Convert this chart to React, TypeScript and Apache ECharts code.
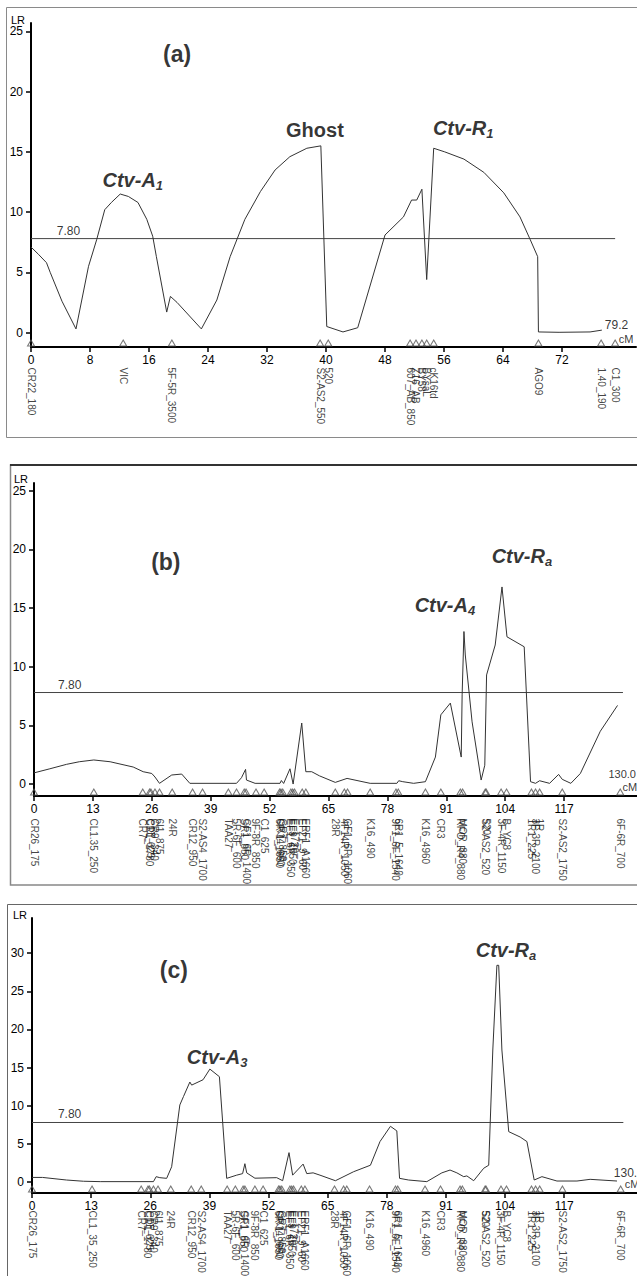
import React, { useEffect, useRef } from "react";
import * as echarts from "echarts";

// ---------- DATA ----------
// LR profiles: [cM, LR]
const curveA: [number, number][] = [
  [0, 7.1], [1, 6.5], [2.1, 5.8], [2.6, 5.0], [4.2, 2.6], [6.1, 0.3], [7.8, 5.5], [8.9, 7.7],
  [10.0, 10.2], [10.9, 10.8], [12.1, 11.5], [13.2, 11.3], [14.5, 10.8], [15.7, 9.4], [16.5, 8.0],
  [17.0, 6.3], [18.4, 1.7], [18.9, 3.0], [19.8, 2.5], [23.1, 0.3], [25.2, 2.7], [27.0, 6.3],
  [29.0, 9.4], [31.1, 11.7], [33.1, 13.5], [35.1, 14.6], [37.4, 15.3], [39.3, 15.5], [40.1, 0.5],
  [42.3, 0.05], [44.3, 0.4], [48.0, 8.1], [50.5, 9.6], [51.6, 11.0], [52.3, 11.0], [53.0, 11.9],
  [53.65, 4.4], [54.6, 15.3], [56.1, 15.0], [58.7, 14.4], [61.4, 13.3], [64.1, 11.6], [66.3, 9.6],
  [67.7, 7.7], [68.7, 6.3], [68.8, 0.05], [71.6, 0.02], [75.8, 0.05], [77.4, 0.2],
];
const curveB: [number, number][] = [
  [0, 0.95], [3.5, 1.3], [7.2, 1.68], [10, 1.9], [13.2, 2.05], [16.8, 1.9], [21.9, 1.45],
  [24.1, 1.05], [26.0, 0.9], [26.7, 0.6], [27.7, 0.06], [30.4, 0.77], [32.6, 0.85], [34.4, 0.06],
  [44.7, 0.06], [45.8, 0.54], [46.7, 1.25], [46.9, 0.34], [48.8, 0.06], [54.3, 0.06], [54.6, 0.3],
  [55.1, 0.05], [56.5, 1.3], [57.2, 0.0], [59.1, 5.2], [60.0, 1.05], [61.3, 1.05], [63.0, 0.7],
  [66.5, 0.14], [69.1, 0.48], [74.2, 0.06], [80.1, 0.06], [80.5, 0.28], [81.4, 0.2], [83.8, 0.06],
  [86.4, 0.2], [88.6, 2.3], [89.8, 5.9], [91.9, 6.9], [94.3, 2.3], [94.5, 7.6], [94.9, 13.0],
  [95.2, 11.0], [96.7, 5.3], [98.7, 0.34], [99.5, 1.6], [99.9, 9.3], [101.8, 11.85], [103.3, 16.8],
  [104.4, 12.55], [108.2, 11.7], [109.6, 0.2], [110.7, 0.06], [111.6, 0.28], [113.8, 0.06],
  [115.8, 0.82], [116.6, 0.4], [118.5, 0.06], [120.6, 0.9], [125.0, 4.5], [128.8, 6.7],
];
const curveC: [number, number][] = [
  [0, 0.6], [2.3, 0.6], [7.6, 0.26], [11.3, 0.1], [15, 0.05], [26.7, 0.05], [27.3, 0.7],
  [28.1, 0.57], [29.6, 0.48], [30.7, 2.0], [32.5, 10.1], [33.3, 11.2], [34.7, 13.1], [35.1, 12.7],
  [37.6, 13.4], [39.1, 14.8], [41.2, 13.8], [42.8, 0.48], [45.0, 0.9], [46.3, 1.1], [46.8, 2.4],
  [47.2, 1.2], [49.0, 0.5], [53.8, 0.57], [55.1, 0.17], [56.5, 3.85], [57.3, 0.9], [59.6, 2.35],
  [60.4, 1.1], [61.8, 1.2], [63.3, 0.9], [66.7, 0.17], [70.7, 1.35], [74.4, 2.2], [76.5, 5.3],
  [78.8, 7.3], [80.2, 6.7], [80.8, 0.48], [82.8, 0.26], [86.8, 0.05], [90.1, 1.2], [91.9, 1.57],
  [93.4, 1.2], [94.9, 0.7], [95.6, 0.8], [97.1, 0.17], [99.3, 1.8], [100.4, 2.2], [101.3, 17.3],
  [102.2, 28.4], [102.6, 28.4], [103.3, 17.3], [104.8, 6.6], [107.3, 5.9], [108.8, 5.3],
  [110.4, 0.26], [112.1, 0.7], [115.4, 0.13], [119.8, 0.13], [122.7, 0.35], [128.6, 0.13],
];

const threshold = 7.8;
const mapLengthA = 79.2;
const mapLengthBC = 130.0;

// markers (cM positions and names)
const markerPosA = [0, 12.5, 19.1, 39.2, 40.3, 51.4, 52.2, 53.0, 53.65, 54.6, 68.8, 77.3, 79.2];
const markerNameA = [
  "CR22_180", "VIC", "5F-5R_3500", "S2-AS2_550", "520", "607_AB_850", "Z16_AB", "BY58",
  "BYsaL", "cK16td", "AGO9", "1.40_190", "C1_300",
];
const markerPosBC = [
  0, 13.2, 24.0, 25.5, 25.8, 26.7, 27.7, 30.5, 35.0, 37.2, 42.9, 44.7, 46.4, 46.8, 49.0, 50.8,
  54.2, 54.5, 54.9, 56.7, 57.1, 57.5, 59.2, 60.0, 66.5, 68.5, 69.2, 74.2, 79.9, 80.4, 86.4, 89.8,
  94.1, 94.6, 99.6, 99.8, 103.1, 104.3, 109.8, 110.7, 111.6, 116.6, 129.4,
];
const markerNameB = [
  "CR26_175", "CL1.35_250", "CR7", "CR1_1780", "C11_625", "CR9_340", "6I1_875", "24R", "CR12_950",
  "S2-AS4_1700", "TAA27", "5R-6F_600", "SR1_850", "GF1_6R_1400", "9F-8R_850", "C1_625",
  "6R-1_1650", "CR14_660", "GR7_850", "EF1_6R_350", "EF9_1550", "E_1720", "EF21_9_60",
  "ERF1_A1660", "28R", "4F14R_1050", "GF1_6R_1060", "K16_490", "9F1_6F_1540", "6R1_5_1640",
  "K16_4960", "CR3", "RFO_R4_880", "MOR_880", "S2-AS2_520", "520", "3F-4R_1150", "B_YC8",
  "1R1_225", "3F-3R_2100", "1R", "S2-AS2_1750", "6F-6R_700",
];
const markerNameC = markerNameB.map((n, k) => (k === 1 ? "CL1_35_250" : n));

const xTicksA = [0, 8, 16, 24, 32, 40, 48, 56, 64, 72];
const xTicksBC = [0, 13, 26, 39, 52, 65, 78, 91, 104, 117];
const yTicksAB = [0, 5, 10, 15, 20, 25];
const yTicksC = [0, 5, 10, 15, 20, 25, 30];

// annotation texts
const panelTitles = ["(a)", "(b)", "(c)"];
const qtlA = [{ main: "Ctv-A", sub: "1" }, { main: "Ghost", sub: "" }, { main: "Ctv-R", sub: "1" }];
const qtlB = [{ main: "Ctv-A", sub: "4" }, { main: "Ctv-R", sub: "a" }];
const qtlC = [{ main: "Ctv-A", sub: "3" }, { main: "Ctv-R", sub: "a" }];

// ---------- LAYOUT ----------
const FONT = "'Liberation Sans', Arial, sans-serif";
const NARROW = "'Liberation Sans Narrow', 'Liberation Sans', Arial, sans-serif";

const panels = [
  {
    grid: { left: 31, top: 23, width: 605, height: 324 },
    xMax: 82.03, yMin: -1.2, yMax: 25.7, xTicks: xTicksA, yTicks: yTicksAB,
    curve: curveA, mapLen: mapLengthA, mPos: markerPosA, mName: markerNameA,
    labelDist: 21, thrLabelX: 3.5, endAt: [77.8, 0.6], cmAt: [79.7, -0.5], endSize: 12,
    title: panelTitles[0], titleAt: [19.8, 23.1],
    qtl: qtlA, qtlAt: [[13.8, 12.7], [38.5, 16.8], [58.6, 17.0]],
    nameGap: -2, namePad: 6,
  },
  {
    grid: { left: 34, top: 483, width: 603, height: 313 },
    xMax: 133.1, yMin: -1.02, yMax: 25.66, xTicks: xTicksBC, yTicks: yTicksAB,
    curve: curveB, mapLen: mapLengthBC, mPos: markerPosBC, mName: markerNameB,
    labelDist: 23, thrLabelX: 5.3, endAt: [126.8, 0.85], cmAt: [129.9, -0.25], endSize: 11,
    title: panelTitles[1], titleAt: [29.1, 18.9],
    qtl: qtlB, qtlAt: [[90.7, 15.3], [107.7, 19.4]],
    nameGap: -1, namePad: 6,
  },
  {
    grid: { left: 32, top: 918, width: 605, height: 275 },
    xMax: 133.0, yMin: -1.44, yMax: 34.6, xTicks: xTicksBC, yTicks: yTicksC,
    curve: curveC, mapLen: mapLengthBC, mPos: markerPosBC, mName: markerNameC,
    labelDist: 18, thrLabelX: 5.7, endAt: [127.9, 1.15], cmAt: [130.3, -0.3], endSize: 12,
    title: panelTitles[2], titleAt: [31.2, 27.8],
    qtl: qtlC, qtlAt: [[40.7, 16.4], [104.2, 30.4]],
    nameGap: -2, namePad: 5,
  },
];

const qtlRich = {
  m: { fontSize: 20, fontWeight: "bold", fontStyle: "italic", fontFamily: FONT, color: "#000", lineHeight: 24 },
  g: { fontSize: 20, fontWeight: "bold", fontFamily: FONT, color: "#000", lineHeight: 24 },
  s: { fontSize: 13, fontWeight: "bold", fontStyle: "italic", fontFamily: FONT, color: "#000", lineHeight: 24, verticalAlign: "bottom", padding: [9, 0, 0, 0] },
};

function buildOption() {
  const grid: any[] = [];
  const xAxis: any[] = [];
  const yAxis: any[] = [];
  const series: any[] = [];

  panels.forEach((p, i) => {
    grid.push({ ...p.grid, containLabel: false });
    xAxis.push({
      type: "value", gridIndex: i, min: 0, max: p.xMax,
      axisLine: { onZero: false, lineStyle: { color: "#000", width: 2 } },
      axisTick: { show: true, length: 5, lineStyle: { color: "#000", width: 1.5 }, customValues: p.xTicks },
      axisLabel: { customValues: p.xTicks, margin: 7, fontSize: 12, fontFamily: NARROW, color: "#000" },
      splitLine: { show: false },
    });
    yAxis.push({
      type: "value", gridIndex: i, min: p.yMin, max: p.yMax,
      name: "LR", nameLocation: "end", nameGap: p.nameGap,
      nameTextStyle: { fontSize: 11, fontFamily: NARROW, color: "#000", align: "right", verticalAlign: "bottom", padding: [0, p.namePad, 0, 0] },
      axisLine: { show: true, lineStyle: { color: "#000", width: 2 } },
      axisTick: { show: true, length: 5, lineStyle: { color: "#000", width: 1.5 }, customValues: p.yTicks },
      axisLabel: { customValues: p.yTicks, margin: 8, fontSize: 12, fontFamily: NARROW, color: "#000" },
      splitLine: { show: false },
    });

    // LR profile
    series.push({
      type: "line", xAxisIndex: i, yAxisIndex: i, data: p.curve, symbol: "none",
      lineStyle: { color: "#333", width: 1 }, silent: true, z: 3,
    });
    // threshold
    series.push({
      type: "line", xAxisIndex: i, yAxisIndex: i,
      data: [[0, threshold], [p.mapLen, threshold]], symbol: "none",
      lineStyle: { color: "#444", width: 1 }, silent: true, z: 2,
    });
    // markers + names
    series.push({
      type: "scatter", xAxisIndex: i, yAxisIndex: i,
      data: p.mPos.map((pos, k) => ({ value: [pos, p.yMin], name: p.mName[k] })),
      symbol: "triangle", symbolSize: [7, 6], symbolOffset: [0, -4],
      itemStyle: { color: "rgba(0,0,0,0)", borderColor: "#555", borderWidth: 1 },
      label: {
        show: true, formatter: "{b}", position: "bottom", distance: p.labelDist, rotate: -90,
        align: "left", verticalAlign: "middle", fontSize: 10, fontFamily: FONT, color: "#111",
      },
      labelLayout: { hideOverlap: false }, clip: false, silent: true, z: 5,
    });
    // texts: threshold value, map length, cM, title, QTL names
    const texts: any[] = [];
    texts.push({
      value: [p.thrLabelX, threshold],
      label: { formatter: threshold.toFixed(2), position: "top", distance: 2, align: "left", fontSize: 12, fontFamily: NARROW, color: "#000" },
    });
    texts.push({
      value: p.endAt,
      label: { formatter: p.mapLen.toFixed(1), position: "inside", align: "left", verticalAlign: "middle", fontSize: p.endSize, fontFamily: NARROW, color: "#000" },
    });
    texts.push({
      value: p.cmAt,
      label: { formatter: "cM", position: "inside", align: "left", verticalAlign: "middle", fontSize: 11, fontFamily: NARROW, color: "#000" },
    });
    texts.push({
      value: p.titleAt,
      label: { formatter: p.title, position: "inside", align: "center", verticalAlign: "middle", fontSize: 23, fontWeight: "bold", fontFamily: FONT, color: "#000" },
    });
    p.qtl.forEach((q, k) => {
      texts.push({
        value: p.qtlAt[k],
        label: {
          formatter: q.sub ? `{m|${q.main}}{s|${q.sub}}` : `{g|${q.main}}`,
          rich: qtlRich, position: "inside", align: "center", verticalAlign: "middle",
        },
      });
    });
    series.push({
      type: "scatter", xAxisIndex: i, yAxisIndex: i, data: texts, symbolSize: 0,
      label: { show: true }, labelLayout: { hideOverlap: false }, clip: false, silent: true, z: 6,
    });
  });

  const graphic = [
    { type: "rect", shape: { x: 6.5, y: 7.5, width: 660, height: 430 }, style: { fill: "none", stroke: "#8a8a8a", lineWidth: 1 }, silent: true },
    { type: "rect", shape: { x: 10.5, y: 465, width: 660, height: 420 }, style: { fill: "none", stroke: "#888", lineWidth: 1.5 }, silent: true },
    { type: "line", shape: { x1: 10, y1: 465, x2: 637, y2: 465 }, style: { stroke: "#333", lineWidth: 2 }, silent: true },
    { type: "rect", shape: { x: 7.5, y: 904.5, width: 660, height: 420 }, style: { fill: "none", stroke: "#666", lineWidth: 1 }, silent: true },
  ];

  return {
    animation: false,
    backgroundColor: "#fff",
    textStyle: { fontFamily: FONT },
    grid, xAxis, yAxis, series, graphic,
  };
}

export default function App() {
  const ref = useRef<HTMLDivElement>(null);
  useEffect(() => {
    document.body.style.margin = "0";
    if (!ref.current) return;
    const chart = echarts.init(ref.current, undefined, { renderer: "svg" });
    chart.setOption(buildOption() as any);
    return () => chart.dispose();
  }, []);
  return <div ref={ref} style={{ width: 637, height: 1276 }} />;
}
